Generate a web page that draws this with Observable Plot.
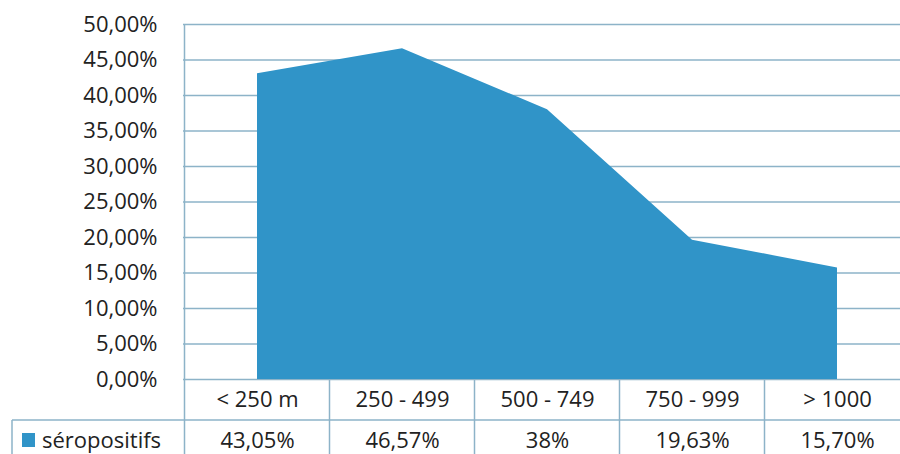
<!DOCTYPE html>
<html><head><meta charset="utf-8">
<script src="https://cdn.jsdelivr.net/npm/d3@7"></script>
<script src="https://cdn.jsdelivr.net/npm/@observablehq/plot@0.6"></script>
<style>body{margin:0;background:#fff;} #chart svg{display:block;}</style>
</head><body><div id="chart"></div>
<script>
const categories = ["< 250 m", "250 - 499", "500 - 749", "750 - 999", "> 1000"];
const values = [43.05, 46.57, 38, 19.63, 15.70];
const yTicks = [0, 5, 10, 15, 20, 25, 30, 35, 40, 45, 50];
const seriesName = "séropositifs";

const data = categories.map((c, i) => ({cat: c, v: values[i]}));
const fmtTick = t => t.toFixed(2).replace(".", ",") + "%";
const fmtVal = v => (Number.isInteger(v) ? String(v) : v.toFixed(2).replace(".", ",")) + "%";

const areaColor = "#3094c8";
const gridColor = "#8db3c8";
const textColor = "#222222";
const FS = 22;
const FONT = "'Open Sans', Lato, sans-serif";

const table = (index, {x, y}, channels, {width, height}) => {
  const step = x(categories[1]) - x(categories[0]);
  const y0 = y(0), yTop = y(50), yRow = y0 + 41;
  const g = d3.create("svg:g");
  const lines = g.append("g").attr("stroke", gridColor).attr("stroke-width", 1.5).attr("fill", "none");
  lines.append("line").attr("x1", x(categories[0]) - step / 2).attr("x2", x(categories[0]) - step / 2).attr("y1", yTop).attr("y2", height);
  categories.forEach(c => {
    const xb = x(c) + step / 2;
    lines.append("line").attr("x1", xb).attr("x2", xb).attr("y1", y0).attr("y2", height);
  });
  lines.append("line").attr("x1", 12).attr("x2", width).attr("y1", yRow).attr("y2", yRow);
  lines.append("line").attr("x1", 12).attr("x2", 12).attr("y1", yRow).attr("y2", height);
  g.append("rect").attr("x", 22).attr("y", yRow + 13).attr("width", 13).attr("height", 14).attr("fill", areaColor);
  g.append("text").attr("x", 42).attr("y", yRow + 20).attr("dy", "0.35em").attr("text-anchor", "start")
    .attr("fill", textColor).attr("font-size", FS).attr("font-family", FONT).text(seriesName);
  return g.node();
};

const chart = Plot.plot({
  width: 900,
  height: 454,
  marginTop: 24,
  marginBottom: 75,
  marginLeft: 183,
  marginRight: 0,
  style: {fontFamily: FONT, fontSize: FS + "px", color: textColor, background: "#fff"},
  x: {type: "point", domain: categories, range: [183, 911], padding: 0.5, axis: null},
  y: {domain: [0, 50], ticks: yTicks, tickFormat: fmtTick, tickSize: 0, tickPadding: 26, label: null},
  marks: [
    Plot.ruleY(yTicks, {stroke: gridColor, strokeWidth: 1.5}),
    Plot.areaY(data, {x: "cat", y: "v", fill: areaColor}),
    Plot.text(data, {x: "cat", frameAnchor: "bottom", dy: 20, text: "cat", fontSize: FS, fill: textColor, lineAnchor: "middle"}),
    Plot.text(data, {x: "cat", frameAnchor: "bottom", dy: 61, text: d => fmtVal(d.v), fontSize: FS, fill: textColor, lineAnchor: "middle"}),
    table
  ]
});
document.getElementById("chart").appendChild(chart);
</script>
</body></html>
